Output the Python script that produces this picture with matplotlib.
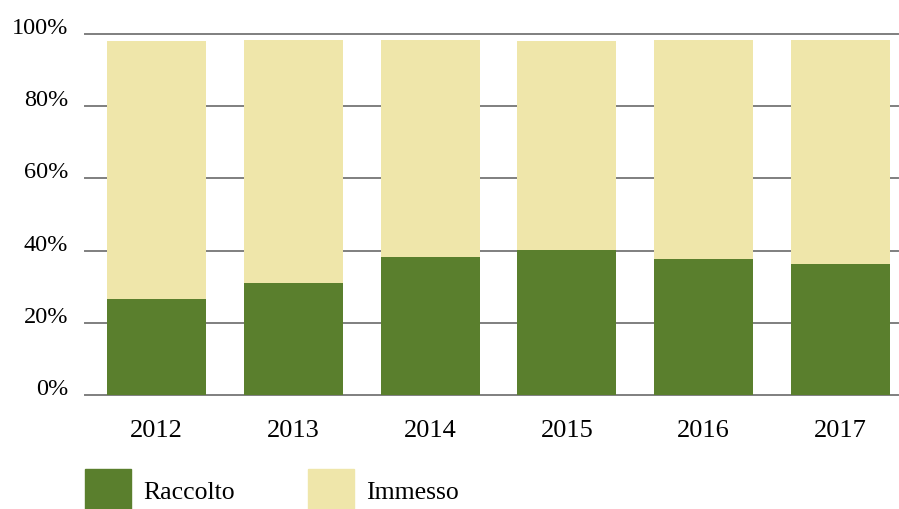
import matplotlib
matplotlib.use("Agg")
import matplotlib.pyplot as plt
from matplotlib.patches import Rectangle

plt.rcParams['font.family'] = ['Liberation Serif', 'DejaVu Serif']

years = ['2012', '2013', '2014', '2015', '2016', '2017']
raccolto = [26.6, 31.1, 38.2, 40.2, 37.7, 36.3]
totale = [98.1, 98.3, 98.3, 98.1, 98.3, 98.3]
immesso = [t - r for t, r in zip(totale, raccolto)]
series_names = ['Raccolto', 'Immesso']
yticks = [0, 20, 40, 60, 80, 100]

green = '#5A7F2D'
beige = '#EFE6AA'

fig = plt.figure(figsize=(8.99, 5.09), dpi=100)
ax = fig.add_axes([85 / 899, 114 / 509, 813 / 899, 361 / 509])

x = list(range(len(years)))
ax.bar(x, raccolto, width=0.723, color=green, zorder=3)
ax.bar(x, immesso, bottom=raccolto, width=0.723, color=beige, zorder=3)

ax.set_ylim(0, 100)
ax.set_xlim(-0.522, 5.42)
ax.set_yticks(yticks)
ax.set_yticklabels([f'{v}%' for v in yticks], fontsize=17.5, va='baseline')
ax.set_xticks(x)
ax.set_xticklabels(years, fontsize=19)
ax.tick_params(axis='y', length=0, pad=12)
ax.tick_params(axis='x', length=0, pad=18)
for v in yticks:
    ax.axhline(v, color='#7f7f7f', lw=1.4, zorder=1, clip_on=False)
for s in ax.spines.values():
    s.set_visible(False)

# legend drawn by hand
for name, col, x0 in zip(series_names, [green, beige], [85, 308]):
    fig.add_artist(Rectangle((x0 / 899, 0), 46 / 899, 40 / 509,
                             transform=fig.transFigure, color=col))
    fig.text((x0 + 58) / 899, 16 / 509, name, fontsize=18.5, va='center')

fig.savefig('out.png', dpi=100)
